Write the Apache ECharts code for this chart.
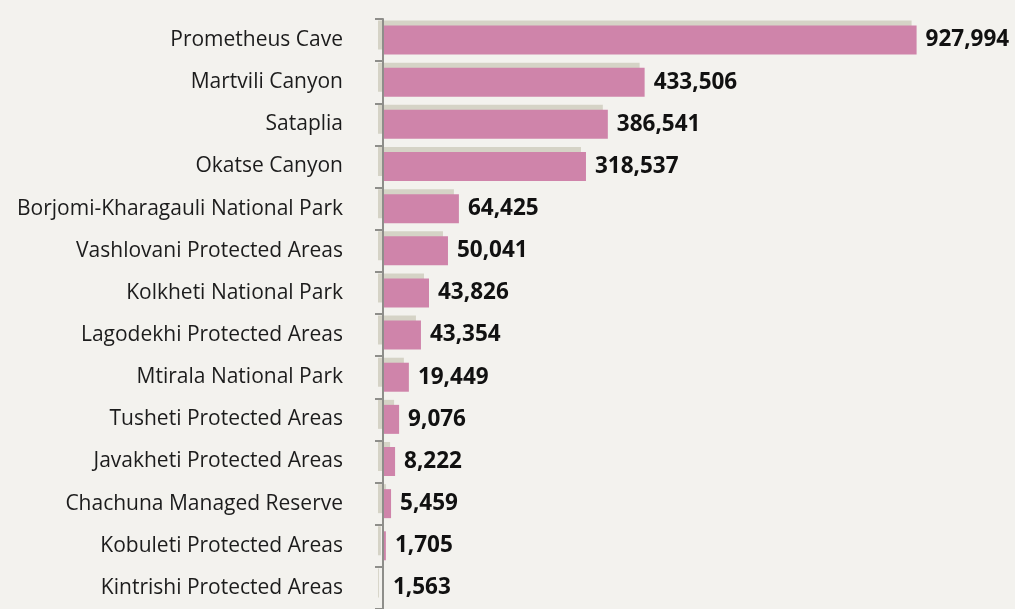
<!DOCTYPE html>
<html>
<head>
<meta charset="utf-8">
<script src="https://cdn.jsdelivr.net/npm/echarts@6/dist/echarts.min.js"></script>
<style>
  html, body { margin: 0; padding: 0; background: #f3f2ee; }
  #chart { width: 1015px; height: 609px; }
</style>
</head>
<body>
<div id="chart"></div>
<script>
// site names, top to bottom
const sites = [
  'Prometheus Cave',
  'Martvili Canyon',
  'Sataplia',
  'Okatse Canyon',
  'Borjomi-Kharagauli National Park',
  'Vashlovani Protected Areas',
  'Kolkheti National Park',
  'Lagodekhi Protected Areas',
  'Mtirala National Park',
  'Tusheti Protected Areas',
  'Javakheti Protected Areas',
  'Chachuna Managed Reserve',
  'Kobuleti Protected Areas',
  'Kintrishi Protected Areas'
]

// printed visitor numbers
const visitors = [927994, 433506, 386541, 318537, 64425, 50041, 43826, 43354, 19449, 9076, 8222, 5459, 1705, 1563]

// bar lengths as drawn in the picture (same axis units, not to scale with the labels)
const barLength = [927994, 455000, 391000, 353000, 132000, 113000, 80000, 66000, 45000, 28000, 21000, 14000, 5000, 1563]

const chart = echarts.init(document.getElementById('chart'))
const option = {
  backgroundColor: '#f3f2ee',
  animation: false,
  grid: {
    left: 383,
    right: 57,
    top: 19,
    bottom: -9
  },
  xAxis: {
    type: 'value',
    min: 0,
    max: 1000000,
    show: false
  },
  yAxis: {
    type: 'category',
    inverse: true,
    data: sites,
    z: 5,
    axisLine: {
      lineStyle: { color: '#8e8e8a', width: 2 }
    },
    axisTick: {
      show: true,
      length: 8,
      lineStyle: { color: '#8e8e8a', width: 2 }
    },
    axisLabel: {
      margin: 40,
      color: '#1c1c1c',
      fontSize: 21,
      fontFamily: 'Open Sans'
    }
  },
  series: [
    {
      type: 'bar',
      data: barLength,
      barWidth: 29,
      itemStyle: {
        color: '#cf84aa',
        shadowColor: '#d5d3c6',
        shadowBlur: 0,
        shadowOffsetX: -5,
        shadowOffsetY: -5
      },
      label: {
        show: true,
        position: 'right',
        distance: 9,
        color: '#111',
        fontSize: 22.5,
        fontWeight: 'bold',
        fontFamily: 'Open Sans',
        formatter: function(p) {
          return visitors[p.dataIndex].toLocaleString('en-US')
        }
      }
    }
  ]
}
chart.setOption(option)
</script>
</body>
</html>
